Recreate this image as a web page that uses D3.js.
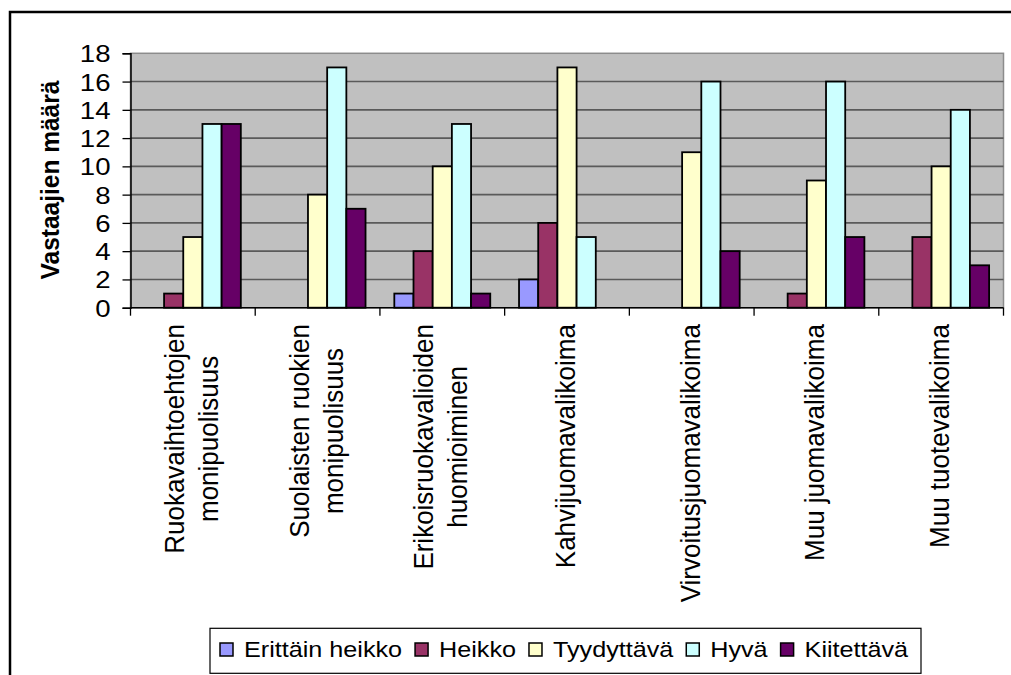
<!DOCTYPE html>
<html>
<head>
<meta charset="utf-8">
<script src="https://cdn.jsdelivr.net/npm/d3@7"></script>
<style>
  html, body { margin: 0; padding: 0; background: #fff; }
  svg { display: block; font-family: "Liberation Sans", Arial, sans-serif; }
</style>
</head>
<body>
<svg id="chart" width="1011" height="675"></svg>
<script>
// Ratings per service category
const categories = [
  ["Ruokavaihtoehtojen", "monipuolisuus"],
  ["Suolaisten ruokien", "monipuolisuus"],
  ["Erikoisruokavalioiden", "huomioiminen"],
  ["Kahvijuomavalikoima"],
  ["Virvoitusjuomavalikoima"],
  ["Muu juomavalikoima"],
  ["Muu tuotevalikoima"]
];
const seriesNames = ["Erittäin heikko", "Heikko", "Tyydyttävä", "Hyvä", "Kiitettävä"];
const seriesColors = ["#9999FF", "#993366", "#FFFFCC", "#CCFFFF", "#660066"];
const erittainHeikko = [0, 0, 1, 2, 0, 0, 0];
const heikko         = [1, 0, 4, 6, 0, 1, 5];
const tyydyttava     = [5, 8, 10, 17, 11, 9, 10];
const hyva           = [13, 17, 13, 5, 16, 16, 14];
const kiitettava     = [13, 7, 1, 0, 4, 5, 3];
const seriesValues = [erittainHeikko, heikko, tyydyttava, hyva, kiitettava];
const yTicks = [0, 2, 4, 6, 8, 10, 12, 14, 16, 18];
const yTitle = "Vastaajien määrä";

const svg = d3.select("#chart");
const plot = { left: 130.5, right: 1003.5, top: 53.3, bottom: 307.7 };

const catKeys = categories.map((c, i) => i);
const x = d3.scaleBand().domain(catKeys).range([plot.left, plot.right]).paddingInner(0).paddingOuter(0);
const xs = d3.scaleBand().domain(d3.range(seriesNames.length)).range([0, x.bandwidth()])
  .paddingInner(0).paddingOuter(0.75);
const y = d3.scaleLinear().domain([0, 18]).range([plot.bottom, plot.top]);

// outer chart frame
svg.append("rect").attr("x", 10).attr("y", 12).attr("width", 1020).attr("height", 700)
  .attr("fill", "#fff").attr("stroke", "#000").attr("stroke-width", 2.5);

// plot background
svg.append("rect").attr("x", plot.left).attr("y", plot.top)
  .attr("width", plot.right - plot.left).attr("height", plot.bottom - plot.top)
  .attr("fill", "#C0C0C0").attr("stroke", "#8c8c8c").attr("stroke-width", 1.5);

// gridlines
svg.append("g").selectAll("line").data(yTicks.filter(t => t > 0 && t < 18)).join("line")
  .attr("x1", plot.left).attr("x2", plot.right)
  .attr("y1", d => y(d)).attr("y2", d => y(d))
  .attr("stroke", "#5a5a5a").attr("stroke-width", 1.6);

// bars
const groups = svg.append("g").selectAll("g").data(seriesValues).join("g")
  .attr("fill", (d, i) => seriesColors[i]);
groups.each(function (vals, si) {
  d3.select(this).selectAll("rect").data(vals.map((v, ci) => ({ v, ci }))).join("rect")
    .filter(d => d.v > 0)
    .attr("x", d => x(d.ci) + xs(si))
    .attr("width", xs.bandwidth())
    .attr("y", d => y(d.v))
    .attr("height", d => y(0) - y(d.v))
    .attr("stroke", "#000").attr("stroke-width", 1.8);
});

// y axis
const yAxis = svg.append("g").attr("transform", `translate(${plot.left},0)`)
  .call(d3.axisLeft(y).tickValues(yTicks).tickSize(8).tickFormat(d3.format("d")));
yAxis.select(".domain").attr("stroke", "#000").attr("stroke-width", 1.5);
yAxis.selectAll(".tick line").attr("stroke", "#000").attr("stroke-width", 1.3);
yAxis.selectAll(".tick text").remove();
yAxis.selectAll(".tick").append("text")
  .attr("transform", `translate(-20,8.5) scale(1.15,1)`)
  .attr("text-anchor", "end").attr("fill", "#000")
  .style("font-size", "24px").style("font-family", "'Liberation Sans', Arial, sans-serif")
  .text(d => d);

// x axis line and category ticks
svg.append("line").attr("x1", plot.left).attr("x2", plot.right)
  .attr("y1", plot.bottom).attr("y2", plot.bottom)
  .attr("stroke", "#000").attr("stroke-width", 1.5);
const bounds = catKeys.map(k => x(k)).concat([plot.right]);
svg.append("g").selectAll("line").data(bounds).join("line")
  .attr("x1", d => d).attr("x2", d => d)
  .attr("y1", plot.bottom).attr("y2", plot.bottom + 8)
  .attr("stroke", "#000").attr("stroke-width", 1.3);

// category labels, rotated
const lineH = 34, labelTop = 324, CSX = 1.08;
categories.forEach((lines, ci) => {
  const cx = x(ci) + x.bandwidth() / 2;
  const g = svg.append("g");
  const texts = lines.map((t, li) => {
    const bx = cx + 8 + (li - (lines.length - 1) / 2) * lineH;
    return g.append("text")
      .attr("text-anchor", "middle").attr("fill", "#000")
      .style("font-size", "26px")
      .text(t)
      .datum(bx);
  });
  const maxLen = d3.max(texts, t => t.node().getComputedTextLength());
  const cy = labelTop + maxLen / 2;
  texts.forEach(t => {
    t.attr("transform", `translate(${t.datum()},${cy}) rotate(-90) scale(1,${CSX})`);
  });
});

// y axis title
svg.append("text")
  .attr("transform", `translate(59,180) rotate(-90) scale(1,1.05)`)
  .attr("text-anchor", "middle").attr("fill", "#000")
  .style("font-size", "24.5px").style("font-weight", "bold")
  .text(yTitle);

// legend
const LSX = 1.145;
const legend = svg.append("g");
legend.append("rect").attr("x", 210).attr("y", 628.3)
  .attr("width", 711).attr("height", 45).attr("fill", "#fff")
  .attr("stroke", "#000").attr("stroke-width", 1.2);
let lx = 220;
seriesNames.forEach((name, i) => {
  legend.append("rect").attr("x", lx).attr("y", 643).attr("width", 13).attr("height", 13)
    .attr("fill", seriesColors[i]).attr("stroke", "#000").attr("stroke-width", 1.5);
  const t = legend.append("text")
    .attr("transform", `translate(${lx + 24},656.7) scale(${LSX},1)`)
    .attr("fill", "#000").style("font-size", "22px").text(name);
  lx += 24 + t.node().getComputedTextLength() * LSX + 13;
});
</script>
</body>
</html>
